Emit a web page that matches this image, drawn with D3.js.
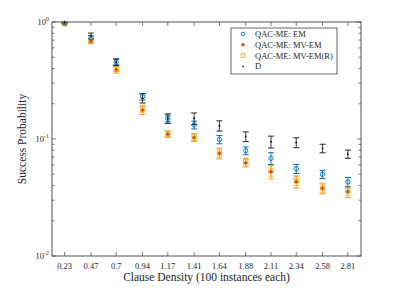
<!DOCTYPE html>
<html>
<head>
<meta charset="utf-8">
<script src="https://cdnjs.cloudflare.com/ajax/libs/d3/7.8.5/d3.min.js"></script>
<style>
body { margin: 0; background: #fff; }
</style>
</head>
<body>
<div id="chart"></div>
<script>
var density = [0.23, 0.47, 0.7, 0.94, 1.17, 1.41, 1.64, 1.88, 2.11, 2.34, 2.58, 2.81];

// success probability per series, with +/- error
var em     = [0.975, 0.734, 0.455, 0.230, 0.150, 0.132, 0.099, 0.0794, 0.0684, 0.0557, 0.0499, 0.0429];
var emErr  = [0.01, 0.03, 0.025, 0.015, 0.010, 0.010, 0.008, 0.006, 0.008, 0.005, 0.004, 0.004];
var mv     = [0.975, 0.684, 0.391, 0.177, 0.110, 0.103, 0.0755, 0.0627, 0.0526, 0.0432, 0.0379, 0.0355];
var mvErr  = [0.01, 0.03, 0.025, 0.015, 0.007, 0.008, 0.008, 0.005, 0.007, 0.005, 0.004, 0.004];
var mvr    = [0.97, 0.69, 0.395, 0.180, 0.111, 0.104, 0.076, 0.064, 0.054, 0.044, 0.038, 0.036];
var mvrErr = [0.01, 0.025, 0.02, 0.012, 0.006, 0.007, 0.006, 0.005, 0.006, 0.004, 0.003, 0.003];
var dd     = [0.99, 0.764, 0.455, 0.223, 0.150, 0.150, 0.130, 0.105, 0.0948, 0.0933, 0.0832, 0.0744];
var ddErr  = [0.01, 0.04, 0.03, 0.02, 0.014, 0.017, 0.013, 0.010, 0.011, 0.009, 0.007, 0.006];

var legendNames = ["QAC-ME: EM", "QAC-ME: MV-EM", "QAC-ME: MV-EM(R)", "D"];

var margin = {top: 22, right: 38, bottom: 32, left: 52},
    width = 399 - margin.left - margin.right,
    height = 288 - margin.top - margin.bottom;

var svg = d3.select("#chart").append("svg")
    .attr("width", 399)
    .attr("height", 288)
    .attr("font-family", "'Liberation Serif', 'DejaVu Serif', serif")
  .append("g")
    .attr("transform", "translate(" + margin.left + "," + margin.top + ")");

var x = d3.scaleLinear()
  .domain([0.115, 2.93])
  .range([0, width]);

var y = d3.scaleLog()
  .domain([0.01, 1])
  .range([height, 0]);

var axisColor = "#262626";

// minor + major y ticks (inward), both sides
var yMinor = [];
[0.01, 0.1].forEach(function(b){
  for (var k = 2; k <= 9; k++) yMinor.push(b * k);
});
var yMajor = [0.01, 0.1, 1];

[0, width].forEach(function(xp, side){
  var dir = side == 0 ? 1 : -1;
  svg.selectAll(".ymin" + side)
      .data(yMinor)
    .enter().append("line")
      .attr("x1", xp).attr("x2", xp + dir * 2.5)
      .attr("y1", function(d){ return y(d); })
      .attr("y2", function(d){ return y(d); })
      .attr("stroke", axisColor).attr("stroke-width", 0.6);
  svg.selectAll(".ymaj" + side)
      .data(yMajor)
    .enter().append("line")
      .attr("x1", xp).attr("x2", xp + dir * 4)
      .attr("y1", function(d){ return y(d); })
      .attr("y2", function(d){ return y(d); })
      .attr("stroke", axisColor).attr("stroke-width", 0.6);
});

// x ticks bottom + top
[0, height].forEach(function(yp, side){
  var dir = side == 0 ? 1 : -1;
  svg.selectAll(".xt" + side)
      .data(density)
    .enter().append("line")
      .attr("x1", function(d){ return x(d); })
      .attr("x2", function(d){ return x(d); })
      .attr("y1", yp).attr("y2", yp + dir * 4)
      .attr("stroke", axisColor).attr("stroke-width", 0.6);
});

// box
svg.append("rect")
  .attr("width", width).attr("height", height)
  .attr("fill", "none")
  .attr("stroke", axisColor)
  .attr("stroke-width", 0.8);

// x tick labels
svg.selectAll(".xlab")
    .data(density)
  .enter().append("text")
    .attr("x", function(d){ return x(d); })
    .attr("y", height + 13)
    .attr("text-anchor", "middle")
    .attr("fill", axisColor)
    .style("font-size", "8.5px")
    .text(function(d){ return d; });

// y tick labels 10^n
var yl = svg.selectAll(".ylab")
    .data(yMajor)
  .enter().append("text")
    .attr("x", -3)
    .attr("y", function(d){ return y(d) + 3; })
    .attr("text-anchor", "end")
    .attr("fill", axisColor)
    .style("font-size", "8.5px");
yl.append("tspan").text("10");
yl.append("tspan")
  .attr("dy", -4)
  .style("font-size", "6px")
  .text(function(d){ return Math.round(Math.log10(d)); });

// axis titles
svg.append("text")
  .attr("x", width / 2)
  .attr("y", height + 25)
  .attr("text-anchor", "middle")
  .attr("fill", axisColor)
  .style("font-size", "11.5px")
  .text("Clause Density (100 instances each)");

svg.append("text")
  .attr("transform", "rotate(-90)")
  .attr("x", -height / 2)
  .attr("y", -26)
  .attr("text-anchor", "middle")
  .attr("fill", axisColor)
  .style("font-size", "11.5px")
  .text("Success Probability");

// error bars
function errorBars(vals, errs, color, cls){
  var g = svg.append("g").attr("class", cls);
  var sel = g.selectAll("g")
      .data(vals.map(function(v, i){ return {x: density[i], v: v, e: errs[i]}; }))
    .enter().append("g");
  sel.append("line")
    .attr("x1", function(d){ return x(d.x); })
    .attr("x2", function(d){ return x(d.x); })
    .attr("y1", function(d){ return y(Math.min(1, d.v + d.e)); })
    .attr("y2", function(d){ return y(d.v - d.e); })
    .attr("stroke", color).attr("stroke-width", 0.9);
  [1, -1].forEach(function(s){
    sel.append("line")
      .attr("x1", function(d){ return x(d.x) - 3; })
      .attr("x2", function(d){ return x(d.x) + 3; })
      .attr("y1", function(d){ return y(Math.min(1, d.v + s * d.e)); })
      .attr("y2", function(d){ return y(Math.min(1, d.v + s * d.e)); })
      .attr("stroke", color).attr("stroke-width", 1);
  });
}

errorBars(mvr, mvrErr, "#F2C46B", "emr");
errorBars(mv, mvErr, "#EDA020", "emv");
errorBars(em, emErr, "#0072BD", "eem");
errorBars(dd, ddErr, "#262626", "edd");

// markers
svg.selectAll(".mvr")
    .data(mvr)
  .enter().append("rect")
    .attr("x", function(d, i){ return x(density[i]) - 2.2; })
    .attr("y", function(d){ return y(d) - 2.2; })
    .attr("width", 4.4).attr("height", 4.4)
    .attr("fill", "none")
    .attr("stroke", "#EDB120").attr("stroke-width", 0.9);

svg.selectAll(".mv")
    .data(mv)
  .enter().append("circle")
    .attr("cx", function(d, i){ return x(density[i]); })
    .attr("cy", function(d){ return y(d); })
    .attr("r", 1.8)
    .attr("fill", "#D95319");

svg.selectAll(".em")
    .data(em)
  .enter().append("circle")
    .attr("cx", function(d, i){ return x(density[i]); })
    .attr("cy", function(d){ return y(d); })
    .attr("r", 2.2)
    .attr("fill", "none")
    .attr("stroke", "#0072BD").attr("stroke-width", 0.9);

svg.selectAll(".dd")
    .data(dd)
  .enter().append("circle")
    .attr("cx", function(d, i){ return x(density[i]); })
    .attr("cy", function(d){ return y(d); })
    .attr("r", 0.9)
    .attr("fill", "#000");

// legend
var lg = svg.append("g")
  .attr("transform", "translate(" + (231 - margin.left) + "," + (28 - margin.top) + ")");
lg.append("rect")
  .attr("width", 106).attr("height", 46)
  .attr("fill", "#fff")
  .attr("stroke", axisColor).attr("stroke-width", 0.7);

var rows = lg.selectAll(".row")
    .data(legendNames)
  .enter().append("g")
    .attr("transform", function(d, i){ return "translate(0," + (6 + i * 10.8) + ")"; });

rows.append("text")
  .attr("x", 24)
  .attr("y", 3)
  .attr("fill", axisColor)
  .style("font-size", "8.5px")
  .text(function(d){ return d; });

rows.each(function(d, i){
  var r = d3.select(this);
  if (i == 0) r.append("circle").attr("cx", 12).attr("cy", 0).attr("r", 1.8)
    .attr("fill", "none").attr("stroke", "#0072BD").attr("stroke-width", 0.9);
  if (i == 1) r.append("circle").attr("cx", 12).attr("cy", 0).attr("r", 1.8)
    .attr("fill", "#D95319");
  if (i == 2) r.append("rect").attr("x", 10.2).attr("y", -1.8).attr("width", 3.6).attr("height", 3.6)
    .attr("fill", "none").attr("stroke", "#EDB120").attr("stroke-width", 0.9);
  if (i == 3) r.append("circle").attr("cx", 12).attr("cy", 0).attr("r", 0.8)
    .attr("fill", "#000");
});
</script>
</body>
</html>
